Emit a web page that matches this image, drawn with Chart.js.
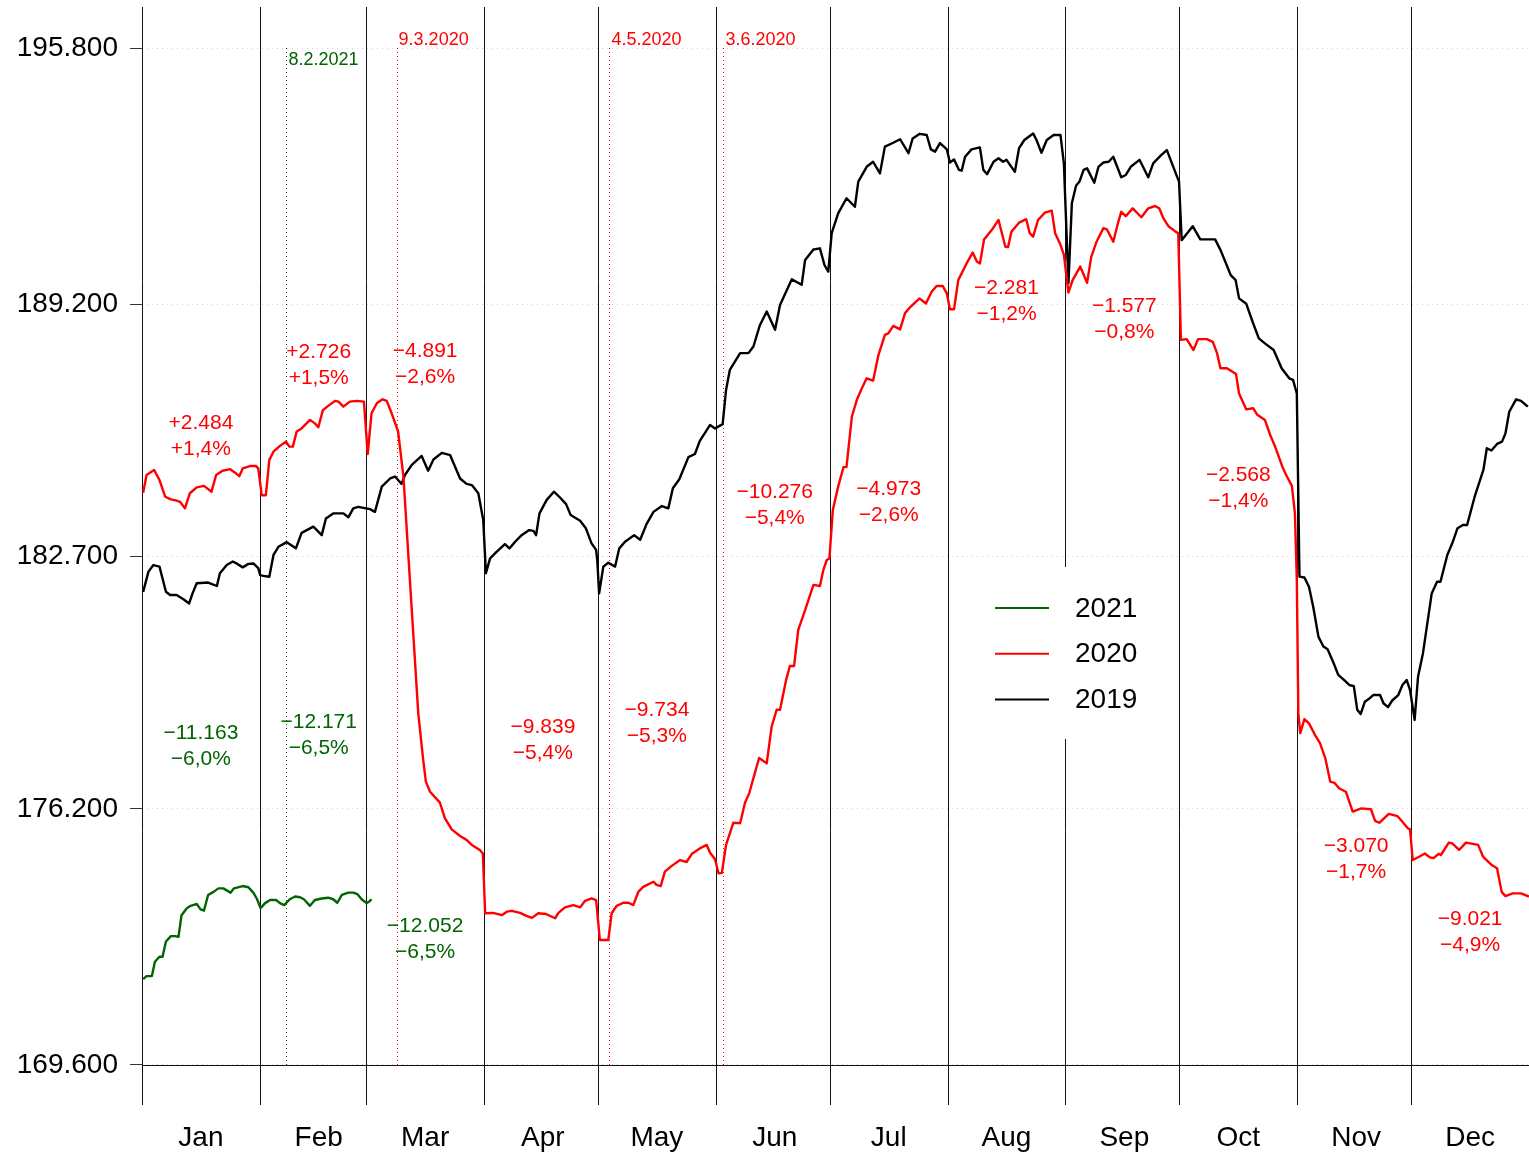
<!DOCTYPE html>
<html>
<head>
<meta charset="utf-8">
<script src="https://cdn.jsdelivr.net/npm/chart.js@4.4.0/dist/chart.umd.min.js"></script>
<style>
html, body { margin: 0; padding: 0; background: #fff; }
#wrap { width: 1529px; height: 1154px; position: relative; }
</style>
</head>
<body>
<div id="wrap"><canvas id="c"></canvas></div>
<script>
const FONT = "'Liberation Sans', Arial, Helvetica, sans-serif";

// x axis: day of year (0 = 1 Jan), y axis: thousands
const months = ['Jan', 'Feb', 'Mar', 'Apr', 'May', 'Jun', 'Jul', 'Aug', 'Sep', 'Oct', 'Nov', 'Dec'];
const monthStarts = [0, 31, 59, 90, 120, 151, 181, 212, 243, 273, 304, 334];
const yTicks = [169.6, 176.2, 182.7, 189.2, 195.8];

const days2019 = [0.3, 1.7, 3.0, 4.6, 6.3, 7.4, 9.1, 10.9, 12.4, 13.3, 14.4, 17.4, 19.7, 20.5, 22.3, 23.9, 25.1, 26.5, 28.0, 29.3, 30.6, 31.1,
  31.9, 33.5, 34.6, 35.9, 38.1, 40.5, 42.0, 45.1, 47.3, 48.4, 50.3, 53.0, 54.3, 55.6, 56.9, 60.0, 61.3, 63.1, 65.3, 66.6, 68.3, 69.2,
  71.0, 73.6, 75.3, 76.7, 78.9, 81.1, 83.7, 85.4, 86.8, 88.5, 89.8, 90.5, 91.6, 93.3, 95.5, 96.7, 98.2, 99.9, 101.9, 103.0, 103.7,
  104.6, 106.5, 108.4, 110.0, 111.6, 112.8, 115.3, 116.8, 118.3, 119.5, 119.8, 120.3, 121.4, 122.7, 124.5, 125.6, 127.1, 129.5,
  131.1, 132.8, 134.6, 136.8, 138.5, 139.7, 141.4, 143.8, 145.5, 146.8, 149.5, 150.8, 152.8, 153.7, 154.7, 157.4, 159.6, 160.9,
  162.6, 164.4, 166.6, 167.9, 171.0, 173.6, 174.5, 176.7, 178.4, 179.6, 180.6, 181.5, 183.2, 185.4, 187.6, 188.5, 190.7, 192.4,
  194.2, 195.5, 197.7, 199.5, 201.7, 202.8, 204.7, 206.5, 207.6, 208.7, 210.0, 211.8, 212.6, 213.7, 215.0, 215.7, 216.6, 218.3,
  220.5, 221.4, 222.4, 224.1, 225.4, 226.6, 227.5, 229.7, 230.8, 232.2, 234.5, 235.4, 236.7, 238.1, 239.9, 241.7, 242.6, 243.8,
  244.7, 245.8, 246.7, 247.8, 248.7, 250.6, 251.7, 253.0, 254.4, 255.6, 257.7, 258.9, 260.2, 262.5, 264.8, 266.1, 268.2, 269.7,
  272.4, 272.9, 273.6, 276.5, 278.5, 282.4, 283.8, 285.6, 286.5, 287.8, 288.7, 290.6, 292.4, 293.9, 295.5, 297.8, 299.9, 301.9,
  302.9, 303.9, 304.6, 305.9, 307.1, 308.2, 309.6, 310.9, 312.0, 313.6, 314.8, 316.3, 317.7, 318.9, 319.8, 320.7, 321.8, 323.1,
  324.0, 325.8, 326.7, 327.9, 329.0, 330.6, 331.7, 332.8, 333.7, 334.9, 335.8, 337.1, 339.4, 340.8, 341.7, 343.5, 344.8, 346.2,
  347.6, 348.7, 350.7, 353.0, 353.9, 355.1, 356.6, 357.9, 358.8, 359.8, 361.6, 362.9, 364.7];
const vals2019 = [181.79, 182.31, 182.48, 182.44, 181.79, 181.71, 181.71, 181.60, 181.49, 181.75, 182.01, 182.03, 181.94, 182.27, 182.48, 182.57, 182.51, 182.42, 182.51, 182.52, 182.40, 182.22,
  182.20, 182.18, 182.74, 182.95, 183.07, 182.91, 183.31, 183.47, 183.25, 183.68, 183.81, 183.81, 183.71, 183.94, 183.98, 183.92, 183.85, 184.50, 184.71, 184.76, 184.57, 184.80,
  185.06, 185.29, 184.91, 185.20, 185.37, 185.31, 184.71, 184.57, 184.54, 184.33, 183.64, 182.27, 182.65, 182.82, 183.02, 182.91, 183.08, 183.25, 183.38, 183.36, 183.25,
  183.81, 184.16, 184.37, 184.22, 184.05, 183.77, 183.62, 183.43, 183.04, 182.87, 182.61, 181.75, 182.44, 182.54, 182.44, 182.91, 183.08, 183.25,
  183.13, 183.54, 183.85, 184.00, 183.94, 184.46, 184.69, 185.26, 185.34, 185.68, 186.09, 186.00, 186.11, 186.99, 187.51, 187.94, 187.94, 188.11,
  188.66, 189.01, 188.54, 189.18, 189.84, 189.70, 190.34, 190.61, 190.64, 190.21, 190.04, 191.03, 191.54, 191.93, 191.71, 192.36, 192.74, 192.87,
  192.57, 193.26, 193.36, 193.45, 193.09, 193.47, 193.59, 193.56, 193.19, 193.13, 193.35, 193.19, 192.85, 192.93, 192.66, 192.64, 193.00, 193.19,
  193.24, 192.66, 192.55, 192.87, 192.96, 192.87, 192.92, 192.61, 193.22, 193.43, 193.60, 193.43, 193.10, 193.43, 193.56, 193.56, 192.83, 189.74,
  191.80, 192.25, 192.36, 192.66, 192.70, 192.33, 192.74, 192.85, 192.87, 193.00, 192.47, 192.53, 192.74, 192.92, 192.47, 192.83, 193.04, 193.17,
  192.48, 192.36, 190.85, 191.21, 190.87, 190.87, 190.60, 190.17, 189.95, 189.82, 189.35, 189.21, 188.71, 188.32, 188.19, 188.02, 187.55, 187.29,
  187.25, 186.90, 182.18, 182.16, 181.92, 181.41, 180.63, 180.38, 180.31, 179.95, 179.65, 179.52, 179.39, 179.36, 178.75, 178.64, 178.96, 179.05,
  179.13, 179.13, 178.92, 178.82, 178.99, 179.13, 179.39, 179.52, 179.26, 178.49, 179.60, 180.21, 181.75, 182.05, 182.05, 182.74, 183.04, 183.43,
  183.51, 183.51, 184.24, 184.93, 185.49, 185.43, 185.60, 185.66, 185.87, 186.43, 186.75, 186.71, 186.56];

const days2020 = [0.3, 1.2, 3.2, 4.6, 6.1, 7.6, 9.1, 10.0, 11.3, 12.6, 14.4, 16.3, 18.3, 19.5, 21.2, 23.2, 24.5, 25.6, 26.5, 28.4, 30.0, 30.6,
  31.5, 32.6, 33.5, 34.6, 36.3, 37.9, 38.8, 39.7, 40.7, 42.0, 44.2, 45.5, 46.4, 47.6, 49.0, 50.8, 51.7, 53.0, 54.7, 56.5, 58.4,
  59.4, 60.4, 61.8, 63.3, 64.4, 65.7, 67.4, 68.8, 70.5, 72.7, 74.0, 74.7, 75.8, 78.4, 79.7, 81.5, 83.7, 85.4, 86.8, 88.9, 89.7,
  90.3, 92.4, 94.7, 96.0, 97.3, 99.5, 101.2, 102.6, 104.3, 106.3, 108.7, 109.6, 111.3, 113.5, 115.3, 116.6, 118.3, 119.5,
  120.5, 122.7, 123.6, 124.9, 126.7, 128.0, 129.3, 130.6, 131.9, 134.6, 135.4, 136.5, 137.6, 139.4, 141.6, 143.3, 144.7, 146.8,
  148.6, 149.5, 150.8, 151.7, 152.6, 153.7, 155.6, 157.4, 158.7, 159.8, 160.9, 162.4, 164.4, 165.7, 167.0, 167.9, 169.5, 170.5,
  171.6, 172.7, 174.5, 176.7, 178.4, 179.3, 180.2, 180.9, 181.8, 183.2, 184.6, 185.4, 186.8, 188.1, 189.4, 190.7, 192.4, 193.8,
  195.5, 196.4, 197.7, 199.5, 200.8, 202.1, 204.6, 206.3, 207.8, 209.1, 210.7, 211.8, 212.6, 213.7, 214.8, 217.0, 218.6, 219.7,
  220.5, 221.6, 223.6, 225.4, 227.2, 227.9, 228.8, 230.8, 232.7, 233.6, 234.5, 235.8, 237.6, 239.4, 240.3, 241.7, 242.6, 243.8,
  244.9, 246.9, 248.7, 249.8, 251.2, 253.0, 253.9, 255.6, 256.8, 257.7, 258.9, 260.7, 263.0, 264.8, 266.6, 267.7, 268.8, 270.2,
  272.0, 272.7, 273.4, 274.9, 276.7, 277.9, 280.2, 281.8, 282.9, 283.8, 285.5, 287.9, 288.7, 290.6, 292.4, 293.5, 295.5, 296.9,
  298.2, 300.1, 301.1, 302.6, 303.4, 303.9, 304.3, 304.8, 305.9, 307.1, 308.7, 310.0, 311.4, 312.7, 313.8, 315.0, 316.8, 318.6,
  320.9, 323.4, 324.5, 325.6, 328.1, 330.4, 331.3, 333.1, 333.7, 334.4, 336.2, 337.6, 338.9, 339.9, 341.2, 341.8, 343.9, 344.8,
  346.6, 348.4, 351.6, 352.9, 355.2, 356.6, 357.8, 358.8, 360.7, 362.9, 365.0];
const vals2020 = [184.34, 184.80, 184.93, 184.67, 184.24, 184.17, 184.14, 184.11, 183.94, 184.33, 184.48, 184.52, 184.37, 184.80, 184.91, 184.95, 184.86, 184.77, 184.97, 185.03, 185.03, 184.97,
  184.28, 184.28, 185.19, 185.40, 185.55, 185.66, 185.53, 185.53, 185.92, 186.00, 186.22, 186.13, 186.03, 186.47, 186.58, 186.71, 186.69, 186.56, 186.69, 186.71, 186.69,
  185.34, 186.39, 186.65, 186.75, 186.71, 186.39, 185.92, 184.76, 182.09, 178.66, 177.46, 176.90, 176.64, 176.36, 175.96, 175.67, 175.50, 175.40, 175.27, 175.14, 175.05,
  173.51, 173.52, 173.46, 173.55, 173.57, 173.52, 173.44, 173.39, 173.51, 173.49, 173.38, 173.52, 173.66, 173.72, 173.66, 173.83, 173.89, 173.85,
  172.82, 172.82, 173.51, 173.70, 173.78, 173.78, 173.72, 174.06, 174.19, 174.32, 174.24, 174.21, 174.58, 174.73, 174.88, 174.83, 175.04, 175.18,
  175.27, 175.07, 174.90, 174.54, 174.55, 175.27, 175.84, 175.83, 176.36, 176.60, 176.99, 177.51, 177.37, 178.32, 178.75, 178.75, 179.52, 179.88,
  179.88, 180.81, 181.32, 181.97, 181.94, 182.35, 182.61, 182.65, 183.90, 184.50, 185.00, 185.01, 186.30, 186.73, 187.03, 187.29, 187.23, 187.89,
  188.41, 188.45, 188.64, 188.55, 188.97, 189.12, 189.35, 189.22, 189.52, 189.67, 189.67, 189.48, 189.07, 189.07, 189.82, 190.25, 190.53, 190.30,
  190.25, 190.87, 191.11, 191.37, 190.68, 190.67, 191.07, 191.30, 191.39, 191.03, 190.94, 191.37, 191.56, 191.61, 191.03, 190.73, 190.47, 189.50,
  189.82, 190.17, 189.75, 190.42, 190.81, 191.16, 191.13, 190.81, 191.28, 191.58, 191.47, 191.67, 191.44, 191.67, 191.73, 191.67, 191.41, 191.20,
  191.07, 191.03, 188.28, 188.30, 188.02, 188.30, 188.30, 188.23, 187.94, 187.55, 187.55, 187.40, 186.90, 186.49, 186.52, 186.35, 186.22, 185.83,
  185.53, 185.01, 184.80, 184.52, 183.81, 182.09, 178.66, 178.15, 178.51, 178.40, 178.10, 177.89, 177.50, 176.90, 176.87, 176.73, 176.64, 176.13,
  176.21, 176.19, 175.89, 175.84, 176.07, 176.01, 175.91, 175.70, 175.67, 174.88, 174.97, 175.05, 174.95, 174.93, 175.04, 175.01, 175.33, 175.31,
  175.14, 175.33, 175.27, 174.97, 174.75, 174.67, 174.06, 173.95, 174.02, 174.02, 173.94];

const days2021 = [0.3, 1.2, 2.6, 3.4, 4.6, 5.4, 6.3, 7.6, 8.7, 9.6, 10.4, 11.8, 12.8, 14.4, 15.4, 16.3, 17.4, 18.8, 20.1, 21.4, 23.3, 24.2,
  26.5, 28.0, 29.3, 30.3, 31.2, 32.4, 33.7, 35.3, 36.3, 37.4, 38.9, 40.3, 41.6, 42.6, 44.2, 45.5, 47.3, 49.0, 50.3, 51.4, 52.6,
  54.3, 55.6, 56.7, 57.8, 59.1, 59.8, 60.4];
const vals2021 = [171.81, 171.89, 171.89, 172.26, 172.39, 172.39, 172.78, 172.92, 172.92, 172.90, 173.46, 173.64, 173.70, 173.75, 173.61, 173.58, 173.98, 174.06, 174.15, 174.15, 174.04, 174.15,
  174.21, 174.18, 174.04, 173.87, 173.64, 173.77, 173.85, 173.85, 173.77, 173.72, 173.87, 173.94, 173.92, 173.87, 173.70, 173.85, 173.89, 173.91, 173.87, 173.78, 173.98,
  174.04, 174.04, 174.00, 173.87, 173.77, 173.81, 173.87];

// dated reference lines
const refDays = [38, 67, 123, 153];
const refLabels = ['8.2.2021', '9.3.2020', '4.5.2020', '3.6.2020'];
const refYears = ['2021', '2020', '2020', '2020'];
const refLabelAt = [195.50, 196.01, 196.01, 196.01];

// monthly differences
const diffMonth = [0, 1, 2, 3, 4, 5, 6, 7, 8, 9, 10, 11, 0, 1, 2];
const diffYear = ['2020', '2020', '2020', '2020', '2020', '2020', '2020', '2020', '2020', '2020', '2020', '2020', '2021', '2021', '2021'];
const diffAbs = ['+2.484', '+2.726', '\u22124.891', '\u22129.839', '\u22129.734', '\u221210.276', '\u22124.973', '\u22122.281', '\u22121.577', '\u22122.568', '\u22123.070', '\u22129.021',
  '\u221211.163', '\u221212.171', '\u221212.052'];
const diffPct = ['+1,4%', '+1,5%', '\u22122,6%', '\u22125,4%', '\u22125,3%', '\u22125,4%', '\u22122,6%', '\u22121,2%', '\u22120,8%', '\u22121,4%', '\u22121,7%', '\u22124,9%',
  '\u22126,0%', '\u22126,5%', '\u22126,5%'];
const diffAt = [186.14, 187.97, 187.99, 178.31, 178.75, 184.36, 184.44, 189.62, 189.15, 184.80, 175.24, 173.36, 178.15, 178.44, 173.18];

const colors = { '2021': '#006400', '2020': '#ff0000', '2019': '#000000' };

function series(days, vals) {
  return days.map((d, i) => ({ x: d, y: vals[i] }));
}

const overlay = {
  id: 'overlay',
  beforeDatasetsDraw(chart) {
    const { ctx, chartArea: a, scales: { x, y } } = chart;
    ctx.save();
    ctx.strokeStyle = '#111';
    ctx.lineWidth = 1;
    monthStarts.forEach(d => {
      const px = Math.round(x.getPixelForValue(d)) + 0.5;
      ctx.beginPath();
      ctx.moveTo(px, a.top);
      ctx.lineTo(px, a.bottom);
      ctx.stroke();
    });
    const base = Math.round(y.getPixelForValue(yTicks[0])) + 0.5;
    ctx.beginPath();
    ctx.moveTo(a.left, base);
    ctx.lineTo(a.right, base);
    ctx.stroke();

    const top = y.getPixelForValue(yTicks[yTicks.length - 1]);
    ctx.setLineDash([1, 3]);
    refDays.forEach((d, i) => {
      const px = Math.round(x.getPixelForValue(d)) + 0.5;
      ctx.strokeStyle = colors[refYears[i]];
      ctx.beginPath();
      ctx.moveTo(px, top);
      ctx.lineTo(px, base);
      ctx.stroke();
    });
    ctx.restore();
  },
  afterDatasetsDraw(chart) {
    const { ctx, scales: { x, y } } = chart;
    ctx.save();
    ctx.textBaseline = 'middle';

    ctx.font = '18px ' + FONT;
    ctx.textAlign = 'left';
    refDays.forEach((d, i) => {
      ctx.fillStyle = colors[refYears[i]];
      ctx.fillText(refLabels[i], x.getPixelForValue(d) + 2, y.getPixelForValue(refLabelAt[i]));
    });

    ctx.font = '21px ' + FONT;
    ctx.textAlign = 'center';
    diffAbs.forEach((t, i) => {
      const px = x.getPixelForValue(monthStarts[diffMonth[i]] + 15.5);
      const py = y.getPixelForValue(diffAt[i]);
      ctx.fillStyle = colors[diffYear[i]];
      ctx.fillText(t, px, py);
      ctx.fillText(diffPct[i], px, py + 26.5);
    });

    // legend
    ctx.fillStyle = '#fff';
    ctx.fillRect(985, 567, 165, 172);
    ctx.font = '28px ' + FONT;
    ctx.textAlign = 'left';
    chart.data.datasets.forEach((ds, i) => {
      const ly = 608 + i * 45.7;
      ctx.strokeStyle = ds.borderColor;
      ctx.lineWidth = 2;
      ctx.beginPath();
      ctx.moveTo(995, ly);
      ctx.lineTo(1049, ly);
      ctx.stroke();
      ctx.fillStyle = '#000';
      ctx.fillText(ds.label, 1075, ly + 1);
    });
    ctx.restore();
  }
};

const lineStyle = { borderWidth: 2.4, pointRadius: 0, fill: false, tension: 0, borderJoinStyle: 'round' };

new Chart(document.getElementById('c'), {
  type: 'line',
  data: {
    datasets: [
      { label: '2021', data: series(days2021, vals2021), borderColor: colors['2021'], ...lineStyle },
      { label: '2020', data: series(days2020, vals2020), borderColor: colors['2020'], ...lineStyle },
      { label: '2019', data: series(days2019, vals2019), borderColor: colors['2019'], ...lineStyle }
    ]
  },
  options: {
    responsive: true,
    maintainAspectRatio: false,
    animation: false,
    layout: { padding: { top: 7, right: 0, bottom: 0, left: 0 } },
    plugins: { legend: { display: false }, tooltip: { enabled: false } },
    scales: {
      x: {
        type: 'linear',
        min: 0,
        max: 365,
        grid: { display: false, drawTicks: false },
        border: { display: false },
        afterBuildTicks: s => { s.ticks = monthStarts.map(d => ({ value: d + 15.5 })); },
        afterFit: s => { s.height = 49; s.paddingLeft = 0; s.paddingRight = 0; },
        ticks: {
          autoSkip: false,
          maxRotation: 0,
          padding: 16,
          color: '#000',
          font: { family: FONT, size: 28 },
          callback: (v, i) => months[i]
        }
      },
      y: {
        min: 168.569,
        max: 196.857,
        grid: { color: '#d4d4d4', lineWidth: 1, tickLength: 12, tickColor: '#333' },
        border: { display: false, dash: [1, 4] },
        afterBuildTicks: s => { s.ticks = yTicks.map(v => ({ value: v })); },
        afterFit: s => { s.width = 142; s.paddingTop = 0; s.paddingBottom = 0; },
        ticks: {
          padding: 12,
          color: '#000',
          font: { family: FONT, size: 28 },
          callback: v => v.toFixed(3)
        }
      }
    }
  },
  plugins: [overlay]
});
</script>
</body>
</html>
